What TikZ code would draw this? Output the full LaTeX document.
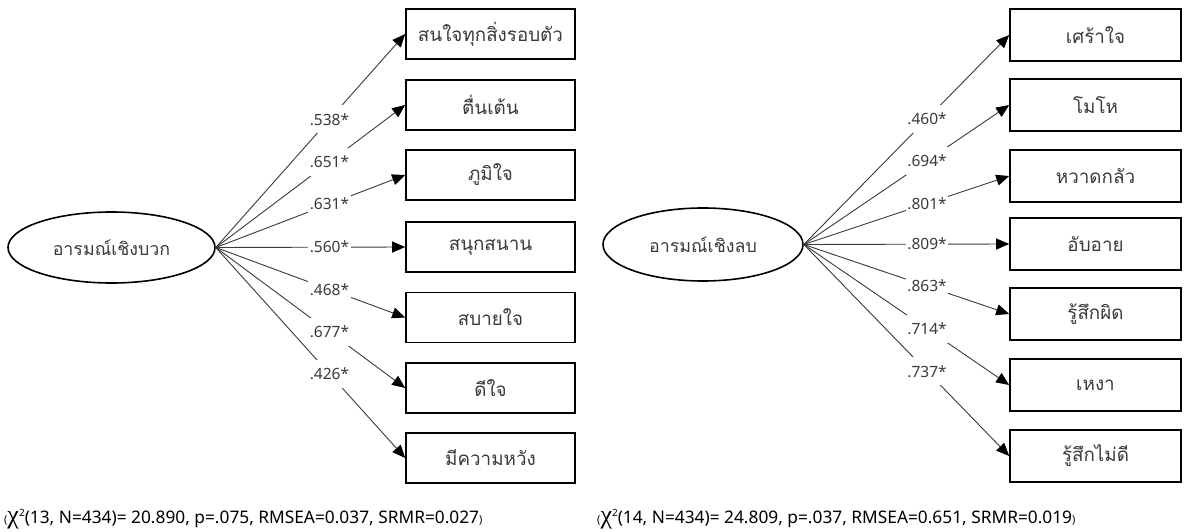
\documentclass[tikz,border=0pt]{standalone}
\usepackage{fontspec}
\setmainfont{Noto Sans}
\newfontfamily\thai[Script=Thai]{Loma}
\newfontfamily\grk{Liberation Serif}
\usetikzlibrary{arrows.meta,shapes.geometric}
\definecolor{ln}{HTML}{3A3A3A}
\definecolor{tx}{HTML}{3A3A3A}
\begin{document}
\begin{tikzpicture}[x=1pt,y=-1pt,
  latent/.style={ellipse, draw=black, line width=1.6pt, inner sep=0pt,
    font=\thai\fontsize{17.8}{20}\selectfont, text=tx},
  obs/.style={rectangle, draw=black, line width=1.6pt, inner sep=0pt,
    minimum height=50pt, font=\thai\fontsize{18.8}{20}\selectfont, text=tx},
  loadline/.style={draw=ln, line width=0.9pt, -{Triangle[length=13pt,width=11pt,color=black]}},
  coef/.style={fill=white, inner xsep=1.5pt, inner ysep=0pt, minimum height=28pt,
    font=\fontsize{15.5}{17}\selectfont, text=tx},
  fit/.style={anchor=west, inner sep=0pt, font=\fontsize{17.3}{19}\selectfont, text=black}
]
\useasboundingbox (0,0) rectangle (1184,532);
\fill[white] (0,0) rectangle (1184,532);

% ---------- left model ----------
\node[latent, minimum width=207pt, minimum height=71pt] (F1) at (111.5,247.5) {อารมณ์เชิงบวก};
\node[obs, minimum width=169pt] (p1) at (490.5,34)  {สนใจทุกสิ่งรอบตัว};
\node[obs, minimum width=169pt] (p2) at (490.5,105) {ตื่นเต้น};
\node[obs, minimum width=169pt] (p3) at (490.5,175) {ภูมิใจ};
\node[obs, minimum width=169pt] (p4) at (490.5,247) {สนุกสนาน};
\node[obs, minimum width=169pt] (p5) at (490.5,317.5) {สบายใจ};
\node[obs, minimum width=169pt] (p6) at (490.5,388) {ดีใจ};
\node[obs, minimum width=169pt] (p7) at (490.5,458) {มีความหวัง};

\draw[loadline] (F1.east) -- node[coef, pos=0.6] (c1) {.538*} (p1.west);
\draw[loadline] (F1.east) -- node[coef, pos=0.6] (c2) {.651*} (p2.west);
\draw[loadline] (F1.east) -- node[coef, pos=0.6] (c3) {.631*} (p3.west);
\draw[loadline] (F1.east) -- node[coef, pos=0.6] (c4) {.560*} (p4.west);
\draw[loadline] (F1.east) -- node[coef, pos=0.6] (c5) {.468*} (p5.west);
\draw[loadline] (F1.east) -- node[coef, pos=0.6] (c6) {.677*} (p6.west);
\draw[loadline] (F1.east) -- node[coef, pos=0.6] (c7) {.426*} (p7.west);

\node[fit] (fitL) at (4,519) {{\fontsize{11}{12}\selectfont(}{\grk\fontsize{26}{26}\selectfont χ}\raisebox{7pt}{\fontsize{10}{10}\selectfont 2}(13, N=434)= 20.890, p=.075, RMSEA=0.037, SRMR=0.027{\fontsize{11}{12}\selectfont)}};

% ---------- right model ----------
\node[latent, minimum width=200pt, minimum height=73pt] (F2) at (703,244.5) {อารมณ์เชิงลบ};
\node[obs, minimum width=171pt, minimum height=52pt] (n1) at (1095.5,35)  {เศร้าใจ};
\node[obs, minimum width=171pt, minimum height=52pt] (n2) at (1095.5,105) {โมโห};
\node[obs, minimum width=171pt, minimum height=52pt] (n3) at (1095.5,176) {หวาดกลัว};
\node[obs, minimum width=171pt, minimum height=52pt] (n4) at (1095.5,244) {อับอาย};
\node[obs, minimum width=171pt, minimum height=52pt] (n5) at (1095.5,314) {รู้สึกผิด};
\node[obs, minimum width=171pt, minimum height=52pt] (n6) at (1095.5,385) {เหงา};
\node[obs, minimum width=171pt, minimum height=52pt] (n7) at (1095.5,456) {รู้สึกไม่ดี};

\draw[loadline] (F2.east) -- node[coef, pos=0.6] (d1) {.460*} (n1.west);
\draw[loadline] (F2.east) -- node[coef, pos=0.6] (d2) {.694*} (n2.west);
\draw[loadline] (F2.east) -- node[coef, pos=0.6] (d3) {.801*} (n3.west);
\draw[loadline] (F2.east) -- node[coef, pos=0.6] (d4) {.809*} (n4.west);
\draw[loadline] (F2.east) -- node[coef, pos=0.6] (d5) {.863*} (n5.west);
\draw[loadline] (F2.east) -- node[coef, pos=0.6] (d6) {.714*} (n6.west);
\draw[loadline] (F2.east) -- node[coef, pos=0.6] (d7) {.737*} (n7.west);

\node[fit] (fitR) at (597,519) {{\fontsize{11}{12}\selectfont(}{\grk\fontsize{26}{26}\selectfont χ}\raisebox{7pt}{\fontsize{10}{10}\selectfont 2}(14, N=434)= 24.809, p=.037, RMSEA=0.651, SRMR=0.019{\fontsize{11}{12}\selectfont)}};
\end{tikzpicture}
\end{document}
